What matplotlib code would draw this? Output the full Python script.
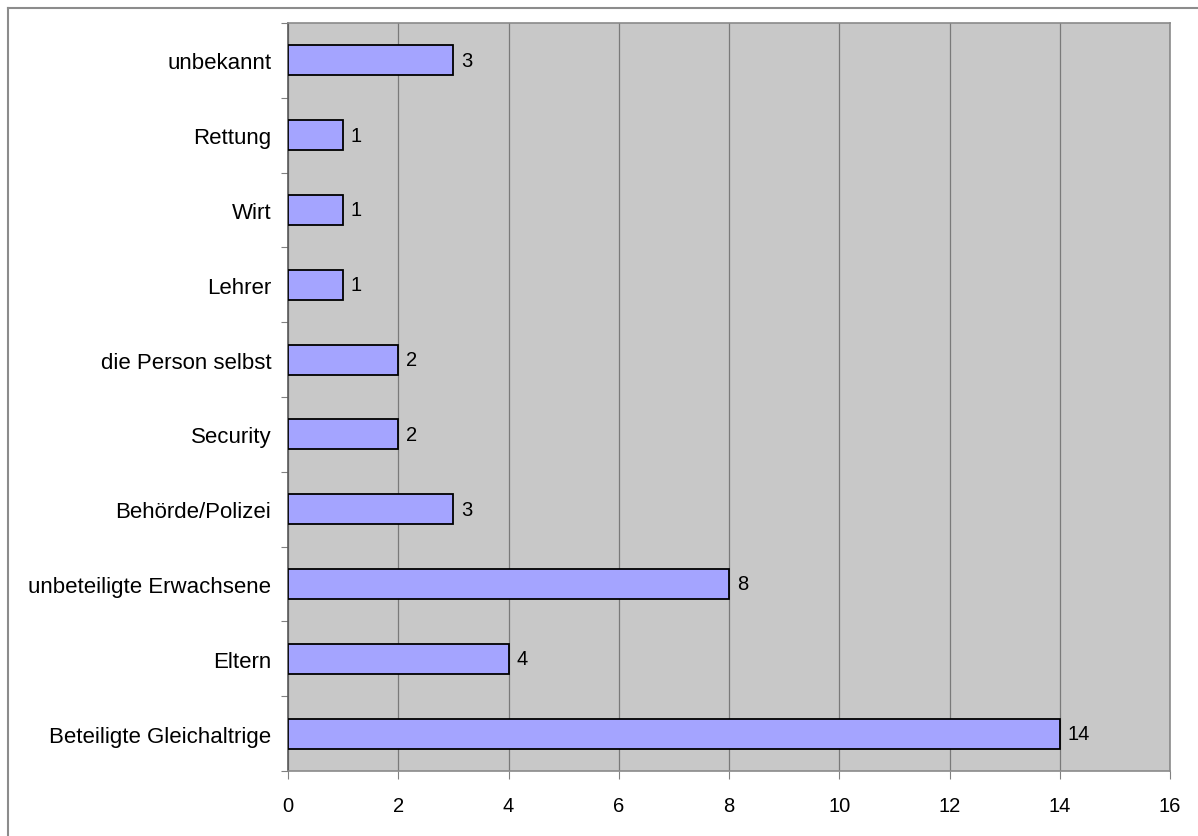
import matplotlib
matplotlib.use("Agg")
import matplotlib.pyplot as plt
from matplotlib.lines import Line2D
import numpy as np

plt.rcParams['font.family'] = ['Liberation Sans', 'DejaVu Sans']

categories = ["Beteiligte Gleichaltrige", "Eltern", "unbeteiligte Erwachsene",
              "Behörde/Polizei", "Security", "die Person selbst", "Lehrer",
              "Wirt", "Rettung", "unbekannt"]
counts = [14, 4, 8, 3, 2, 2, 1, 1, 1, 3]
x_ticks = [0, 2, 4, 6, 8, 10, 12, 14, 16]

W, H = 1198, 837
fig = plt.figure(figsize=(W / 100, H / 100), dpi=100)
fig.patch.set_facecolor("white")

# frame around the chart (top and left edges fall inside the canvas)
bx, by = 7.5 / W, 1 - 8.5 / H
fig.lines.append(Line2D([bx, bx], [0, by], transform=fig.transFigure,
                        color="#8c8c8c", linewidth=1.5))
fig.lines.append(Line2D([bx, 1], [by, by], transform=fig.transFigure,
                        color="#8c8c8c", linewidth=1.5))

ax = fig.add_axes([288 / W, 65 / H, 882 / W, 748 / H])
ax.set_facecolor("#c8c8c8")

pos = np.arange(len(categories))
ax.barh(pos, counts, height=0.4, color="#a4a4ff", edgecolor="black",
        linewidth=1.3, zorder=3)
for p, v in zip(pos, counts):
    ax.text(v + 0.14, p, str(v), va="center", ha="left", fontsize=14.5,
            color="black", zorder=4)

ax.set_xlim(0, 16)
ax.set_ylim(-0.5, len(categories) - 0.5)
ax.set_xticks(x_ticks)
ax.set_xticklabels([str(t) for t in x_ticks], fontsize=14.5)
ax.grid(axis="x", color="#7a7a7a", linewidth=0.9, zorder=1)

ax.set_yticks(np.arange(-0.5, len(categories)), labels=[""] * (len(categories) + 1))
ax.set_yticks(pos, minor=True)
ax.set_yticklabels(categories, minor=True, fontsize=16)
ax.tick_params(axis="y", which="major", length=5, color="#808080", direction="out")
ax.tick_params(axis="y", which="minor", length=0, pad=12)
ax.tick_params(axis="x", length=6, color="#808080", pad=12)

for s in ax.spines.values():
    s.set_color("#8a8a8a")
    s.set_linewidth(1.2)
ax.spines["left"].set_color("#5a5a5a")

fig.savefig("out.png", dpi=100)
